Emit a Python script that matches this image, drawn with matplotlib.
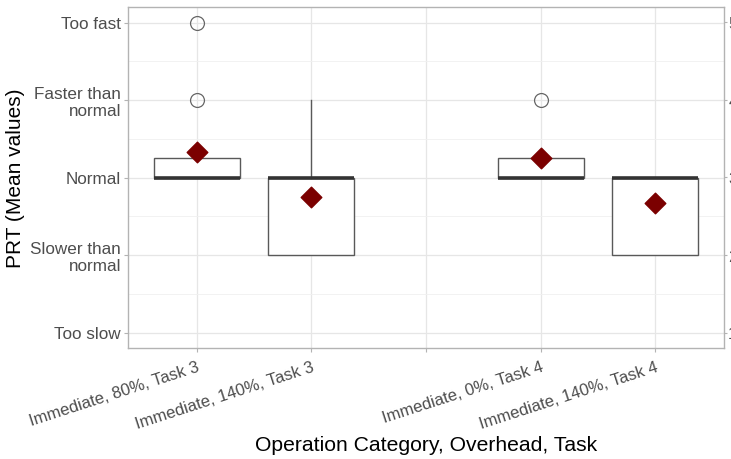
import matplotlib
matplotlib.use("Agg")
import matplotlib.pyplot as plt

plt.rcParams['font.family'] = ['Liberation Sans', 'DejaVu Sans']

# categories (position 3 is an empty spacer slot)
positions = [1, 2, 4, 5]
all_ticks = [1, 2, 3, 4, 5]
tick_labels = ["Immediate, 80%, Task 3", "Immediate, 140%, Task 3", "",
               "Immediate, 0%, Task 4", "Immediate, 140%, Task 4"]

# box statistics
q1 = [3, 2, 3, 2]
med = [3, 3, 3, 3]
q3 = [3.25, 3, 3.25, 3]
whislo = [3, 2, 3, 2]
whishi = [3.25, 4, 3.25, 3]
fliers = [[4, 5], [], [4], []]
means = [3.33, 2.75, 3.25, 2.67]

y_ticks = [1, 2, 3, 4, 5]
y_labels = ["Too slow", "Slower than\nnormal", "Normal", "Faster than\nnormal", "Too fast"]

fig = plt.figure(figsize=(7.31, 4.6), dpi=100)
ax = fig.add_axes([128/731, 111/460, 596/731, 341/460])

stats = []
for i in range(len(positions)):
    stats.append(dict(q1=q1[i], med=med[i], q3=q3[i], whislo=whislo[i],
                      whishi=whishi[i], fliers=fliers[i]))

ax.bxp(stats, positions=positions, widths=0.75, patch_artist=True,
       showcaps=False,
       boxprops=dict(facecolor='white', edgecolor='#595959', linewidth=1.0),
       medianprops=dict(color='#333333', linewidth=2.6, solid_capstyle='butt'),
       whiskerprops=dict(color='#595959', linewidth=1.0),
       flierprops=dict(marker='o', markersize=10, markerfacecolor='none',
                       markeredgecolor='#666666', markeredgewidth=0.9),
       zorder=3)

ax.scatter(positions, means, marker='D', s=110, color='#7B0000', zorder=5)

ax.set_xlim(0.4, 5.6)
ax.set_ylim(0.8, 5.2)
ax.set_xticks(all_ticks)
ax.set_xticklabels(tick_labels, rotation=18, ha='right', va='top',
                   rotation_mode='anchor', fontsize=12, color='#4D4D4D')
ax.set_yticks(y_ticks)
ax.set_yticklabels(y_labels, fontsize=12.3, color='#4D4D4D', ha='right',
                   multialignment='right', linespacing=1.15)
ax.set_yticks([1.5, 2.5, 3.5, 4.5], minor=True)

ax.grid(True, which='major', color='#E6E6E6', linewidth=0.9, zorder=0)
ax.grid(True, which='minor', axis='y', color='#F0F0F0', linewidth=0.6, zorder=0)
ax.set_axisbelow(True)

for s in ax.spines.values():
    s.set_color('#B3B3B3')
    s.set_linewidth(1.0)
ax.tick_params(which='major', color='#B3B3B3', length=3, width=0.8, pad=2)
ax.tick_params(axis='x', which='major', pad=5)
ax.tick_params(which='minor', length=0)

ax2 = ax.twinx()
ax2.set_ylim(ax.get_ylim())
ax2.set_yticks(y_ticks)
ax2.set_yticklabels([str(v) for v in y_ticks], fontsize=12.3, color='#4D4D4D')
ax2.tick_params(color='#B3B3B3', length=2.5, width=0.8, pad=0.5)
for s in ax2.spines.values():
    s.set_visible(False)

ax.set_xlabel("Operation Category, Overhead, Task", fontsize=15.2, labelpad=3)
ax.set_ylabel("PRT (Mean values)", fontsize=15, labelpad=4)

fig.savefig("out.png", dpi=100)
